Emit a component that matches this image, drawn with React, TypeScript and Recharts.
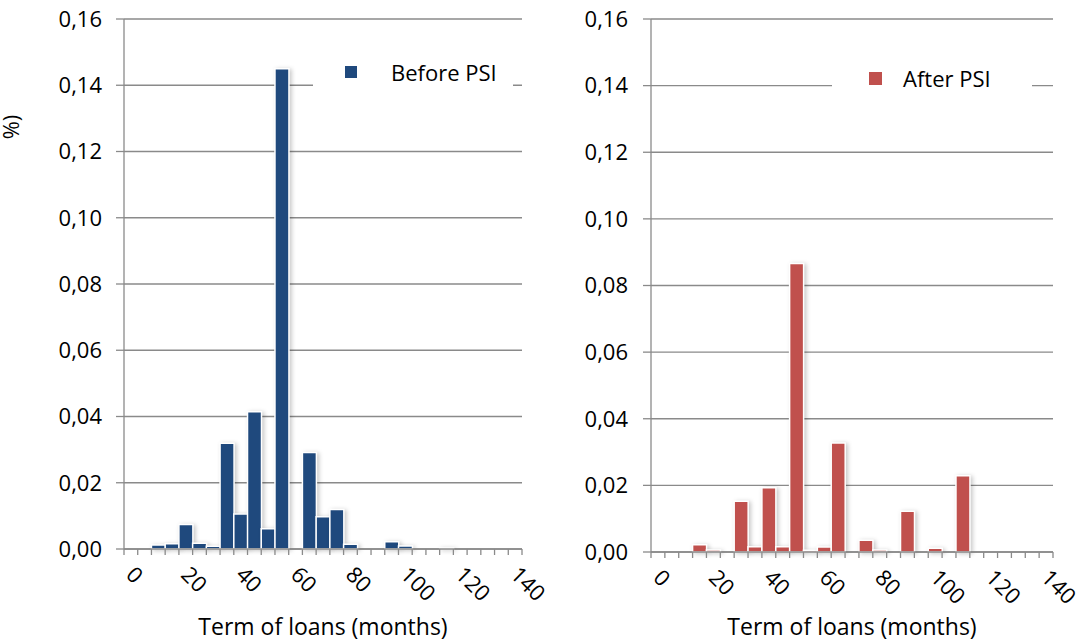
import React from 'react';
import { BarChart, Bar, XAxis, YAxis, CartesianGrid, Legend } from 'recharts';

// term of loans, one category every 5 months
const months = [
  0, 5, 10, 15, 20, 25, 30, 35, 40, 45, 50, 55, 60, 65, 70,
  75, 80, 85, 90, 95, 100, 105, 110, 115, 120, 125, 130, 135, 140,
];

const beforePsi = [
  0, 0, 0.0012, 0.0016, 0.0074, 0.0017, 0.0008, 0.0319, 0.0106, 0.0414,
  0.0061, 0.145, 0, 0.0291, 0.0097, 0.0119, 0.0014, 0, 0, 0.0022,
  0.0009, 0, 0, 0.0003, 0, 0, 0, 0, 0,
];

const afterPsi = [
  0, 0, 0, 0.0022, 0.0006, 0, 0.0152, 0.0016, 0.0193, 0.0016,
  0.0866, 0.0005, 0.0015, 0.0327, 0, 0.0035, 0.0006, 0, 0.0122, 0,
  0.0011, 0, 0.0229, 0, 0, 0, 0, 0, 0,
];

const yTicks = [0, 0.02, 0.04, 0.06, 0.08, 0.1, 0.12, 0.14, 0.16];

const beforeData = months.map((m, i) => ({ month: m, share: beforePsi[i] }));
const afterData = months.map((m, i) => ({ month: m, share: afterPsi[i] }));

const FONT = '"Open Sans", sans-serif';
const GRAY = '#8a8a8a';
const BLUE = '#1f497d';
const RED = '#c0504d';

const fmt = (v: number) => v.toFixed(2).replace('.', ',');

// excel-style ticks: marks sit on category boundaries, labels every 20 months
const makeMonthTick = (half: number) => (props: any) => {
  const { x, y, payload, index, visibleTicksCount } = props;
  const lx = x - 6;
  const ly = y + 27;
  return (
    <g>
      <line x1={x - half} x2={x - half} y1={y} y2={y + 6} stroke={GRAY} strokeWidth={1.3} />
      {index === visibleTicksCount - 1 && (
        <line x1={x + half} x2={x + half} y1={y} y2={y + 6} stroke={GRAY} strokeWidth={1.3} />
      )}
      {payload.value % 20 === 0 && (
        <text
          x={lx}
          y={ly}
          transform={`rotate(45, ${lx}, ${ly})`}
          textAnchor="start"
          fontSize={22}
          fontFamily={FONT}
          fill="#000"
        >
          {payload.value}
        </text>
      )}
    </g>
  );
};

const makeLegend = (iconGap: number, textGap: number, iconSize: number) => (props: any) => {
  const { payload } = props;
  return (
    <div style={{ display: 'flex', alignItems: 'center', height: '100%', background: '#fff' }}>
      {payload.map((e: any) => (
        <React.Fragment key={e.value}>
          <span
            style={{
              display: 'inline-block',
              width: iconSize,
              height: iconSize,
              background: e.color,
              marginLeft: iconGap,
              marginRight: textGap,
            }}
          />
          <span style={{ fontSize: 22, fontFamily: FONT, color: '#000' }}>{e.value}</span>
        </React.Fragment>
      ))}
    </div>
  );
};

interface PanelProps {
  data: { month: number; share: number }[];
  name: string;
  color: string;
  margin: { top: number; right: number; left: number; bottom: number };
  xHeight: number;
  tickGap: number;
  legendBox: { left: number; top: number; width: number; height: number };
  legend: (props: any) => React.ReactNode;
}

const W = 540;
const H = 641;
const Y_W = 60;

const Panel = ({ data, name, color, margin, xHeight, tickGap, legendBox, legend }: PanelProps) => {
  const plotW = W - margin.left - margin.right - Y_W;
  const half = plotW / months.length / 2;
  return (
    <BarChart width={W} height={H} data={data} margin={margin} barCategoryGap={0}>
      <CartesianGrid vertical={false} stroke={GRAY} strokeWidth={1.3} />
      <XAxis
        dataKey="month"
        type="category"
        interval={0}
        height={xHeight}
        tickSize={0}
        tickMargin={0}
        axisLine={{ stroke: GRAY, strokeWidth: 1.3 }}
        tickLine={false}
        tick={makeMonthTick(half)}
        label={{
          value: 'Term of loans (months)',
          position: 'insideBottom',
          offset: 6,
          fontSize: 23,
          fontFamily: FONT,
          fill: '#000',
        }}
      />
      <YAxis
        width={Y_W}
        domain={[0, 0.16]}
        ticks={yTicks}
        interval={0}
        tickFormatter={fmt}
        tickSize={8}
        tickMargin={tickGap}
        axisLine={{ stroke: GRAY, strokeWidth: 1.3 }}
        tickLine={{ stroke: GRAY, strokeWidth: 1.3 }}
        tick={{ fontSize: 22, fontFamily: FONT, fill: '#000' }}
      />
      <Legend
        layout="vertical"
        align="center"
        verticalAlign="middle"
        content={legend}
        wrapperStyle={{ ...legendBox, margin: 0 }}
      />
      <Bar
        dataKey="share"
        name={name}
        fill={color}
        stroke="#ffffff"
        strokeWidth={1.5}
        isAnimationActive={false}
      />
    </BarChart>
  );
};

export default function App() {
  return (
    <div
      style={{
        position: 'absolute',
        left: 0,
        top: 0,
        width: 1080,
        height: 641,
        background: '#fff',
        fontFamily: FONT,
        overflow: 'hidden',
      }}
    >
      <style>{`
        .recharts-surface { overflow: visible; }
        .recharts-bar-rectangle path { filter: drop-shadow(2px 1px 2px rgba(0,0,0,0.22)); }
      `}</style>
      <div style={{ position: 'absolute', left: 0, top: 0 }}>
        <Panel
          data={beforeData}
          name="Before PSI"
          color={BLUE}
          margin={{ top: 19, right: 18, left: 64, bottom: 0 }}
          xHeight={92}
          tickGap={14}
          legendBox={{ left: 313, top: 52, width: 200, height: 40 }}
          legend={makeLegend(32, 34, 12)}
        />
      </div>
      <div style={{ position: 'absolute', left: 540, top: 0 }}>
        <Panel
          data={afterData}
          name="After PSI"
          color={RED}
          margin={{ top: 19, right: 27, left: 51, bottom: 0 }}
          xHeight={89}
          tickGap={15}
          legendBox={{ left: 292, top: 58, width: 200, height: 40 }}
          legend={makeLegend(37, 21, 13)}
        />
      </div>
      <div
        style={{
          position: 'absolute',
          left: -2,
          top: 114,
          fontSize: 22,
          lineHeight: '26px',
          transform: 'rotate(-90deg)',
          color: '#000',
        }}
      >
        %)
      </div>
    </div>
  );
}
